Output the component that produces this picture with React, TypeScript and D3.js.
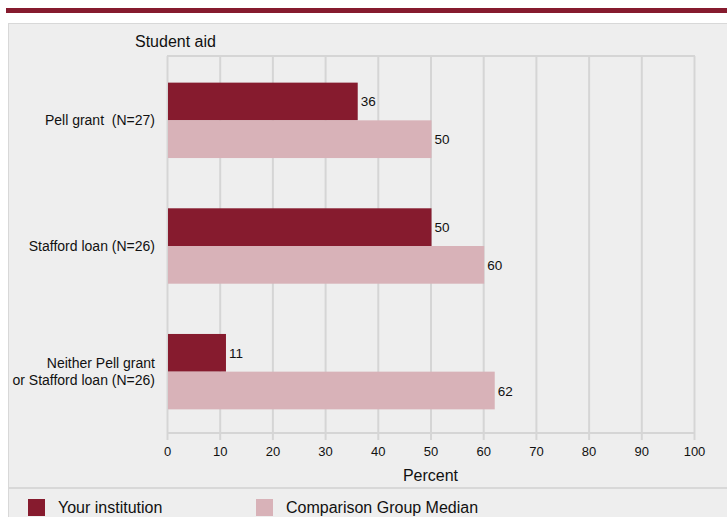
import { useEffect, useRef } from 'react';
import * as d3 from 'd3';

const categories = ['Pell grant  (N=27)', 'Stafford loan (N=26)', 'Neither Pell grant\nor Stafford loan (N=26)'];
const yourInstitution = [36, 50, 11];
const comparisonMedian = [50, 60, 62];
const seriesNames = ['Your institution', 'Comparison Group Median'];
const xTicks = [0, 10, 20, 30, 40, 50, 60, 70, 80, 90, 100];

const MAROON = '#861b2e';
const PINK = '#d8b2b8';
const GRID = '#d5d5d5';

const App = () => {
  const svgRef = useRef<SVGSVGElement>(null);

  useEffect(() => {
    if (!svgRef.current) return;
    const width = 727;
    const height = 517;
    const svg = d3.select(svgRef.current);
    svg.selectAll('*').remove();
    svg.attr('width', width).attr('height', height);

    const font = 'Liberation Sans, Arial, sans-serif';
    const margin = { top: 56, left: 167, right: 33, bottom: 84 };
    const plotBottom = height - margin.bottom; // 433

    // page background + top band
    svg.append('rect').attr('width', width).attr('height', height).attr('fill', '#fff');
    svg.append('rect').attr('x', 6).attr('y', 8).attr('width', width - 6).attr('height', 5).attr('fill', MAROON);
    svg.append('rect').attr('x', 8).attr('y', 23).attr('width', width - 8).attr('height', height - 23)
      .attr('fill', '#eeeeee');
    svg.append('line').attr('x1', 8).attr('x2', width).attr('y1', 23.5).attr('y2', 23.5).attr('stroke', '#d8d8d8');
    svg.append('line').attr('x1', 8.5).attr('x2', 8.5).attr('y1', 23).attr('y2', height).attr('stroke', '#d8d8d8');

    const x = d3.scaleLinear().domain([0, 100]).range([margin.left, 694]);
    const y = d3.scaleBand<string>().domain(categories).range([margin.top + 1.5, plotBottom + 1.5])
      .paddingInner(0.4).paddingOuter(0.2);
    const sub = d3.scaleBand<string>().domain(seriesNames).range([0, y.bandwidth()]);

    // title
    svg.append('text').attr('x', 135).attr('y', 47).attr('font-family', font).attr('font-size', 16)
      .attr('fill', '#111').text('Student aid');

    // grid
    const g = svg.append('g');
    g.selectAll('line.grid').data(xTicks).join('line')
      .attr('x1', (d) => x(d) + 0.5).attr('x2', (d) => x(d) + 0.5)
      .attr('y1', margin.top).attr('y2', plotBottom + 7)
      .attr('stroke', GRID).attr('stroke-width', 2);
    g.append('line').attr('x1', margin.left).attr('x2', x(100) + 1)
      .attr('y1', margin.top).attr('y2', margin.top).attr('stroke', GRID).attr('stroke-width', 2);
    g.append('line').attr('x1', margin.left).attr('x2', x(100) + 1)
      .attr('y1', plotBottom).attr('y2', plotBottom).attr('stroke', GRID).attr('stroke-width', 2);

    // x axis labels
    const axis = d3.axisBottom(x).tickValues(xTicks).tickSize(0).tickPadding(0);
    const ax = svg.append('g').attr('transform', `translate(0,${plotBottom + 14})`).call(axis);
    ax.select('.domain').remove();
    ax.selectAll('text').attr('font-family', font).attr('font-size', 13).attr('fill', '#111').attr('dy', '0.71em');

    svg.append('text').attr('x', x(50)).attr('y', 481).attr('text-anchor', 'middle')
      .attr('font-family', font).attr('font-size', 16).attr('fill', '#111').text('Percent');

    // category labels
    categories.forEach((c) => {
      const lines = c.split('\n');
      const cy = (y(c) ?? 0) + y.bandwidth() / 2;
      const t = svg.append('text').attr('text-anchor', 'end').attr('font-family', font)
        .attr('font-size', 14).attr('fill', '#111').style('white-space', 'pre');
      lines.forEach((l, i) => {
        t.append('tspan').attr('x', 155)
          .attr('y', cy + (i - (lines.length - 1) / 2) * 17 + 5).text(l);
      });
    });

    // bars
    const series = [
      { name: seriesNames[0], values: yourInstitution, color: MAROON },
      { name: seriesNames[1], values: comparisonMedian, color: PINK },
    ];
    series.forEach((s) => {
      categories.forEach((c, i) => {
        const by = (y(c) ?? 0) + (sub(s.name) ?? 0);
        svg.append('rect').attr('x', x(0) + 1).attr('y', by)
          .attr('width', x(s.values[i]) - x(0)).attr('height', sub.bandwidth())
          .attr('fill', s.color);
        svg.append('text').attr('x', x(s.values[i]) + 4).attr('y', by + sub.bandwidth() / 2 + 5)
          .attr('font-family', font).attr('font-size', 13.5).attr('fill', '#111').text(s.values[i]);
      });
    });

    // legend
    svg.append('line').attr('x1', 8).attr('x2', width).attr('y1', 488).attr('y2', 488)
      .attr('stroke', '#d8d8d8').attr('stroke-width', 2);
    const legendX = [28, 256];
    series.forEach((s, i) => {
      svg.append('rect').attr('x', legendX[i]).attr('y', 499).attr('width', 17).attr('height', 17)
        .attr('fill', s.color);
      svg.append('text').attr('x', legendX[i] + 30).attr('y', 513).attr('font-family', font)
        .attr('font-size', 16).attr('fill', '#111').text(s.name);
    });
  }, []);

  return <svg ref={svgRef} style={{ position: 'fixed', left: 0, top: 0, display: 'block' }} />;
};

export default App;
